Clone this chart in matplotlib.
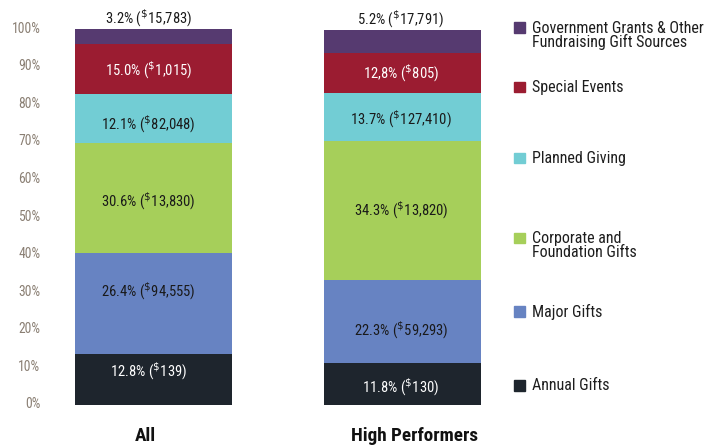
import matplotlib
matplotlib.use("Agg")
import matplotlib.pyplot as plt
import matplotlib.transforms as mtransforms
import numpy as np

categories = ["All", "High Performers"]
series = ["Annual Gifts", "Major Gifts", "Corporate and\nFoundation Gifts",
          "Planned Giving", "Special Events",
          "Government Grants & Other\nFundraising Gift Sources"]
# segment heights as drawn in the picture (percent)
all_pct = [13.6, 26.7, 29.3, 13.1, 13.3, 4.0]
high_pct = [11.1, 22.2, 36.8, 13.0, 10.5, 6.2]
# printed labels
all_labels = ["12.8%", "26.4%", "30.6%", "12.1%", "15.0%", "3.2%"]
high_labels = ["11.8%", "22.3%", "34.3%", "13.7%", "12,8%", "5.2%"]
all_dollars = ["139", "94,555", "13,830", "82,048", "1,015", "15,783"]
high_dollars = ["130", "59,293", "13,820", "127,410", "805", "17,791"]
yticks = [0, 10, 20, 30, 40, 50, 60, 70, 80, 90, 100]

colors = ["#1e252d", "#6783c2", "#a6cf5a", "#72cdd4", "#9b1c31", "#563a70"]
text_colors = ["white", "#1a1a1a", "#1a1a1a", "#1a1a1a", "white", "#1a1a1a"]

FONT = ["Liberation Sans Narrow", "Roboto Condensed", "DejaVu Sans"]
plt.rcParams['font.family'] = FONT
plt.rcParams['mathtext.fontset'] = 'custom'
plt.rcParams['mathtext.rm'] = FONT[0]
plt.rcParams['mathtext.default'] = 'rm'

W, H = 721, 448
fig = plt.figure(figsize=(W / 100, H / 100), dpi=100)
ax_l, ax_r, ax_b, ax_t = 60, 500, 405, 29
ax = fig.add_axes([ax_l / W, 1 - ax_b / H, (ax_r - ax_l) / W, (ax_b - ax_t) / H])

x = np.arange(len(categories))
width = 0.63
data = [all_pct, high_pct]
labels = [all_labels, high_labels]
dollars = [all_dollars, high_dollars]

# layout nudges for the in-bar labels (pixels; +down), and x nudges per bar
label_dy = [[-8, -12, 3, 6, 1], [3.5, 9, 0, 2, 0]]
label_dx = [-5, -2]

def px_offset(dx, dy):
    return ax.transData + mtransforms.ScaledTranslation(dx / 100, -dy / 100, fig.dpi_scale_trans)

for ci in range(len(categories)):
    bottom = 0
    for si in range(len(series)):
        v = data[ci][si]
        ax.bar(x[ci], v, width, bottom=bottom, color=colors[si], linewidth=0)
        txt = labels[ci][si] + r" ($^{\$}$" + dollars[ci][si] + ")"
        if si == len(series) - 1:
            ax.text(x[ci], bottom + v, txt, ha="center", va="center",
                    fontsize=10.5, color="#1a1a1a",
                    transform=px_offset(label_dx[ci], -10.5))
        else:
            ax.text(x[ci], bottom + v / 2, txt, ha="center", va="center",
                    fontsize=10.5, color=text_colors[si],
                    transform=px_offset(label_dx[ci], label_dy[ci][si]))
        bottom += v

ax.set_xlim(-0.375, 1.39)
ax.set_ylim(0, 100)
ax.set_yticks(yticks)
ax.set_yticklabels([f"{t}%" for t in yticks], color="#8a7f73", fontsize=9.8)
ax.set_xticks(x)
ax.set_xticklabels(categories, fontsize=13.8, fontweight="bold", color="#111111")
ax.tick_params(axis="y", length=0, pad=14)
ax.tick_params(axis="x", length=0, pad=16)
for lab in ax.get_yticklabels():
    lab.set_transform(lab.get_transform() +
                      mtransforms.ScaledTranslation(0, 2 / 100, fig.dpi_scale_trans))
for lab, dx in zip(ax.get_xticklabels(), [-8, 11.5]):
    lab.set_transform(lab.get_transform() +
                      mtransforms.ScaledTranslation(dx / 100, 0, fig.dpi_scale_trans))
for s in ax.spines.values():
    s.set_visible(False)

# legend (manual)
leg_y = [385.3, 311.3, 238, 158, 87, 27.7]
for si in range(len(series)):
    yy = 1 - leg_y[si] / H
    fig.patches.append(plt.Rectangle((514 / W, yy - 5.3 / H), 10.6 / W, 10.6 / H,
                                     transform=fig.transFigure, color=colors[si]))
    fig.text(532 / W, yy + 7 / H, series[si], ha="left", va="top",
             fontsize=11.5, color="#1e1e1e", linespacing=0.9)

fig.savefig("out.png", dpi=100)
